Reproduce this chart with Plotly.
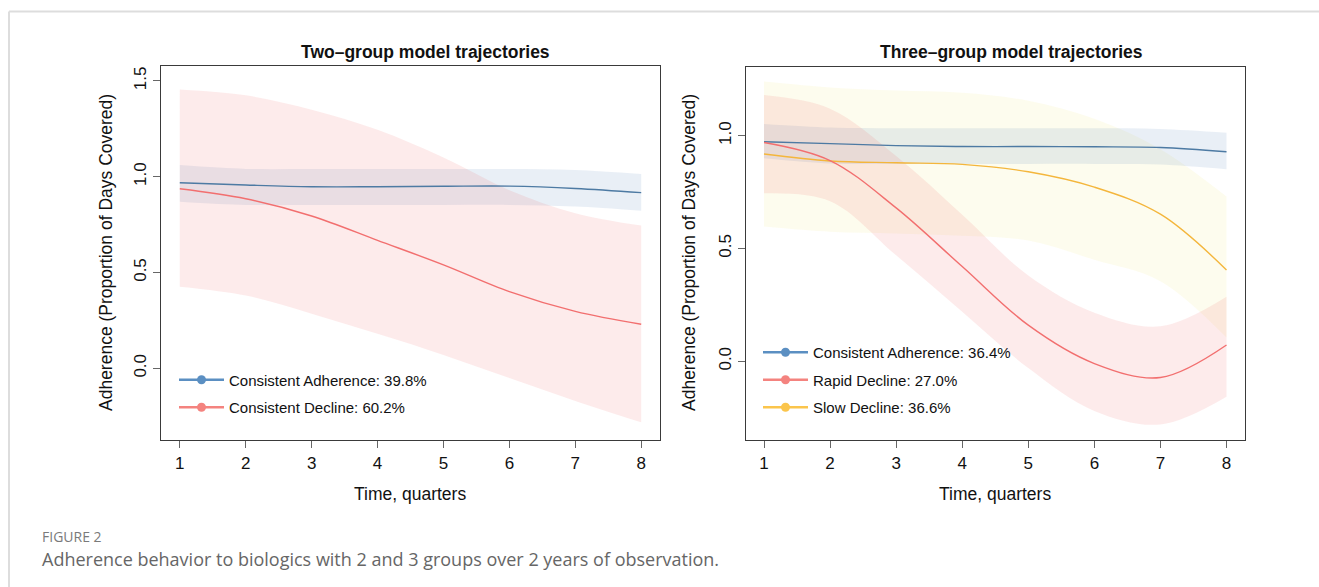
import plotly.graph_objects as go

# ---------------- data ----------------
quarters = [1, 2, 3, 4, 5, 6, 7, 8]

# Two-group model
two_ca = [0.969, 0.957, 0.948, 0.948, 0.950, 0.951, 0.939, 0.917]
two_ca_hi = [1.061, 1.041, 1.040, 1.040, 1.040, 1.040, 1.035, 1.014]
two_ca_lo = [0.870, 0.853, 0.852, 0.852, 0.852, 0.853, 0.845, 0.823]
two_cd = [0.937, 0.885, 0.795, 0.668, 0.540, 0.400, 0.297, 0.230]
two_cd_hi = [1.456, 1.425, 1.350, 1.245, 1.100, 0.930, 0.810, 0.745]
two_cd_lo = [0.426, 0.380, 0.285, 0.180, 0.070, -0.050, -0.170, -0.282]

# Three-group model
three_ca = [0.973, 0.965, 0.956, 0.952, 0.952, 0.951, 0.948, 0.929]
three_ca_hi = [1.052, 1.036, 1.033, 1.033, 1.033, 1.033, 1.030, 1.013]
three_ca_lo = [0.900, 0.877, 0.875, 0.875, 0.875, 0.875, 0.872, 0.851]
three_rd = [0.970, 0.890, 0.680, 0.420, 0.160, -0.010, -0.072, 0.072]
three_rd_hi = [1.180, 1.120, 0.910, 0.650, 0.380, 0.215, 0.155, 0.286]
three_rd_lo = [0.745, 0.710, 0.470, 0.220, -0.030, -0.220, -0.280, -0.157]
three_sd = [0.919, 0.888, 0.880, 0.873, 0.840, 0.772, 0.652, 0.405]
three_sd_hi = [1.240, 1.214, 1.200, 1.190, 1.155, 1.075, 0.940, 0.730]
three_sd_lo = [0.597, 0.574, 0.567, 0.556, 0.535, 0.450, 0.355, 0.105]

two_labels = ["Consistent Adherence: 39.8%", "Consistent Decline: 60.2%"]
three_labels = ["Consistent Adherence: 36.4%", "Rapid Decline: 27.0%", "Slow Decline: 36.6%"]

x_ticks = [1, 2, 3, 4, 5, 6, 7, 8]
y_ticks_left = [0.0, 0.5, 1.0, 1.5]
y_ticks_right = [0.0, 0.5, 1.0]

# ---------------- styles ----------------
BLUE_LINE, RED_LINE, YEL_LINE = "#4d7aa3", "#f26f6f", "#f4b63c"
BLUE_KEY, RED_KEY, YEL_KEY = "#5b8fc2", "#f4837f", "#fbc54c"
BLUE_FILL = "rgba(70,120,180,0.12)"
RED_FILL = "rgba(240,100,100,0.13)"
YEL_FILL = "rgba(240,228,120,0.13)"
FONT = "Liberation Sans, Arial, Helvetica, sans-serif"
CAP_FONT = "Open Sans, Noto Sans, sans-serif"

fig = go.Figure()


def band(lo, hi, fill, xa, ya):
    fig.add_trace(go.Scatter(x=quarters, y=lo, mode="lines", line=dict(width=0, shape="spline"),
                             xaxis=xa, yaxis=ya, showlegend=False, hoverinfo="skip"))
    fig.add_trace(go.Scatter(x=quarters, y=hi, mode="lines", line=dict(width=0, shape="spline"),
                             fill="tonexty", fillcolor=fill,
                             xaxis=xa, yaxis=ya, showlegend=False, hoverinfo="skip"))


def curve(y, color, xa, ya):
    fig.add_trace(go.Scatter(x=quarters, y=y, mode="lines", line=dict(width=1.4, color=color, shape="spline"),
                             xaxis=xa, yaxis=ya, showlegend=False, hoverinfo="skip"))


def key(name, color, xa, ya, legend, group):
    fig.add_trace(go.Scatter(x=[None], y=[None], mode="lines+markers", name=name,
                             line=dict(width=2.5, color=color), marker=dict(size=9, color=color),
                             xaxis=xa, yaxis=ya, legend=legend, legendgroup=group, showlegend=True))


# left panel
band(two_ca_lo, two_ca_hi, BLUE_FILL, "x", "y")
band(two_cd_lo, two_cd_hi, RED_FILL, "x", "y")
curve(two_ca, BLUE_LINE, "x", "y")
curve(two_cd, RED_LINE, "x", "y")
key(two_labels[0], BLUE_KEY, "x", "y", "legend", "a1")
key(two_labels[1], RED_KEY, "x", "y", "legend", "a2")

# right panel
band(three_sd_lo, three_sd_hi, YEL_FILL, "x2", "y2")
band(three_ca_lo, three_ca_hi, BLUE_FILL, "x2", "y2")
band(three_rd_lo, three_rd_hi, RED_FILL, "x2", "y2")
curve(three_ca, BLUE_LINE, "x2", "y2")
curve(three_sd, YEL_LINE, "x2", "y2")
curve(three_rd, RED_LINE, "x2", "y2")
key(three_labels[0], BLUE_KEY, "x2", "y2", "legend2", "b1")
key(three_labels[1], RED_KEY, "x2", "y2", "legend2", "b2")
key(three_labels[2], YEL_KEY, "x2", "y2", "legend2", "b3")

W, H = 1319, 587


def px(v):
    return v / W


def py(v):
    return (H - v) / H


axis_common = dict(showgrid=False, zeroline=False, showline=True, mirror=True,
                   linecolor="#3a3a3a", linewidth=1.4, ticks="outside", ticklen=7,
                   tickcolor="#666666", tickwidth=1,
                   tickfont=dict(family=FONT, size=17, color="#111111"))

legend_common = dict(xanchor="left", yanchor="top", bgcolor="rgba(0,0,0,0)",
                     font=dict(family=FONT, size=15, color="#111111"), tracegroupgap=5,
                     itemwidth=45, itemclick=False, itemdoubleclick=False)

fig.update_layout(
    width=W, height=H, margin=dict(l=0, r=0, t=0, b=0),
    paper_bgcolor="white", plot_bgcolor="white",
    font=dict(family=FONT, color="#111111"),
    xaxis=dict(domain=[px(161), px(660)], range=[0.715, 8.285], tickvals=x_ticks,
               anchor="y", **axis_common),
    yaxis=dict(domain=[py(440), py(66)], range=[-0.374, 1.578], tickvals=y_ticks_left,
               ticktext=[f"{v:.1f}" for v in y_ticks_left], tickangle=-90,
               anchor="x", **axis_common),
    xaxis2=dict(domain=[px(745.7), px(1245)], range=[0.723, 8.28], tickvals=x_ticks,
                anchor="y2", **axis_common),
    yaxis2=dict(domain=[py(440), py(66.7)], range=[-0.349, 1.306], tickvals=y_ticks_right,
                ticktext=[f"{v:.1f}" for v in y_ticks_right], tickangle=-90,
                anchor="x2", **axis_common),
    legend=dict(x=px(174), y=py(363.5), **legend_common),
    legend2=dict(x=px(758), y=py(336), **legend_common),
    showlegend=True,
)

ann = []
ann.append(dict(text="<b>Two\u2013group model trajectories</b>", x=px(426), y=py(52), xref="paper", yref="paper",
                showarrow=False, font=dict(family=FONT, size=17.5, color="#111111"), xanchor="center", yanchor="middle"))
ann.append(dict(text="<b>Three\u2013group model trajectories</b>", x=px(1011.5), y=py(52), xref="paper", yref="paper",
                showarrow=False, font=dict(family=FONT, size=17.5, color="#111111"), xanchor="center", yanchor="middle"))
for cx in (410, 995):
    ann.append(dict(text="Time, quarters", x=px(cx), y=py(494), xref="paper", yref="paper", showarrow=False,
                    font=dict(family=FONT, size=17.5, color="#111111"), xanchor="center", yanchor="middle"))
for cx in (106, 689):
    ann.append(dict(text="Adherence (Proportion of Days Covered)", x=px(cx), y=py(253), xref="paper", yref="paper",
                    showarrow=False, textangle=-90,
                    font=dict(family=FONT, size=17.5, color="#111111"), xanchor="center", yanchor="middle"))
ann.append(dict(text="FIGURE 2", x=px(40), y=py(536.5), xref="paper", yref="paper", showarrow=False,
                font=dict(family=CAP_FONT, size=14, color="#7a7a7a"),
                xanchor="left", yanchor="middle"))
ann.append(dict(text="Adherence behavior to biologics with 2 and 3 groups over 2 years of observation.",
                x=px(40), y=py(559), xref="paper", yref="paper", showarrow=False,
                font=dict(family=CAP_FONT, size=18, color="#666666"),
                xanchor="left", yanchor="middle"))
fig.update_layout(annotations=ann)

# decorative frame around the figure panel
fig.add_shape(type="line", xref="paper", yref="paper", x0=px(9), x1=1, y0=py(11.5), y1=py(11.5),
              line=dict(color="#dddddd", width=2))
fig.add_shape(type="line", xref="paper", yref="paper", x0=px(9), x1=px(9), y0=py(11.5), y1=0,
              line=dict(color="#dddddd", width=2))

fig.write_html("out.html")
